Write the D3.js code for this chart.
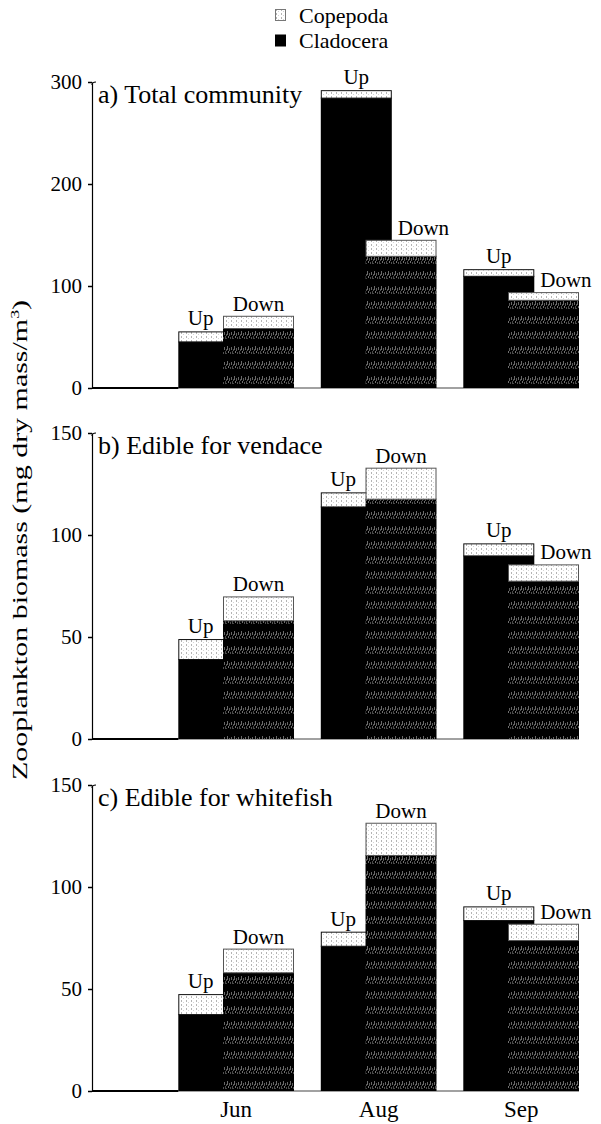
<!DOCTYPE html>
<html>
<head>
<meta charset="utf-8">
<script src="https://cdn.jsdelivr.net/npm/d3@7"></script>
<style>
  body { margin: 0; background: #fff; }
  svg text { font-family: "Liberation Serif", serif !important; }
</style>
</head>
<body>
<div id="chart"></div>
<script>
const months = ["Jun", "Aug", "Sep"];
const sites = ["Up", "Down"];
const panelTitles = ["a) Total community", "b) Edible for vendace", "c) Edible for whitefish"];
const yMaxes = [300, 150, 150];
const yTicks = [[0, 100, 200, 300], [0, 50, 100, 150], [0, 50, 100, 150]];
const seriesNames = ["Copepoda", "Cladocera"];

// one row per panel, one value per month
const cladoceraUp   = [[45.7, 284.7, 110], [39.2, 114, 90], [37.7, 71.2, 83.8]];
const copepodaUp    = [[9.8, 7.3, 6.5], [9.8, 6.9, 5.9], [9.8, 6.9, 6.7]];
const cladoceraDown = [[58.8, 129.6, 86.5], [58.2, 117.8, 77.6], [58.2, 115.7, 74]];
const copepodaDown  = [[12, 15.7, 7.5], [11.7, 15.2, 8], [11.6, 15.8, 8]];

const serif = "Liberation Serif";
const width = 601, height = 1124;
const axisX = 92;
const panelRanges = [[388, 82], [739, 433], [1091, 785]];

const svg = d3.select("#chart").append("svg")
  .attr("width", width)
  .attr("height", height);

// fill patterns
const defs = svg.append("defs");
const cope = defs.append("pattern")
  .attr("id", "cope").attr("patternUnits", "userSpaceOnUse")
  .attr("width", 5).attr("height", 4);
cope.append("rect").attr("width", 5).attr("height", 4).attr("fill", "#fff");
cope.append("rect").attr("x", 1).attr("y", 0).attr("width", 1).attr("height", 2).attr("fill", "#b4b4b4");
cope.append("rect").attr("x", 3).attr("y", 2).attr("width", 1).attr("height", 1).attr("fill", "#d4d4d4");

// black with bands of grey speckle
const dark = defs.append("pattern")
  .attr("id", "dark").attr("patternUnits", "userSpaceOnUse")
  .attr("width", 7).attr("height", 15);
dark.append("rect").attr("width", 7).attr("height", 15).attr("fill", "#000");
[[0, 2, 3, "#666"], [2, 4, 2, "#555"], [3, 1, 4, "#6a6a6a"], [5, 3, 3, "#5c5c5c"],
 [1, 6, 3, "#4c4c4c"], [4, 6, 2, "#707070"], [6, 7, 2, "#505050"], [2, 8, 1, "#444"]]
  .forEach(([px, py, ph, c]) => {
    dark.append("rect").attr("x", px).attr("y", py).attr("width", 1).attr("height", ph).attr("fill", c);
  });

const x = d3.scaleBand()
  .domain(months)
  .range([178.3, 579])
  .paddingInner(0.188)
  .paddingOuter(0);
const barW = 71;
const sub = d3.scalePoint()
  .domain(sites)
  .range([0, x.bandwidth() - barW]);

panelTitles.forEach((title, p) => {
  const y = d3.scaleLinear().domain([0, yMaxes[p]]).range(panelRanges[p]);
  const g = svg.append("g");

  // baseline
  g.append("line")
    .attr("x1", axisX).attr("x2", x.range()[1])
    .attr("y1", y(0)).attr("y2", y(0))
    .attr("stroke", "#444").attr("stroke-width", 1.2);
  g.append("line")
    .attr("x1", axisX).attr("x2", x(months[0]))
    .attr("y1", y(0)).attr("y2", y(0))
    .attr("stroke", "#000").attr("stroke-width", 1.8);

  const rows = months.map((m, i) => ({
    month: m,
    Up: { clad: cladoceraUp[p][i], cope: copepodaUp[p][i] },
    Down: { clad: cladoceraDown[p][i], cope: copepodaDown[p][i] }
  }));

  rows.forEach(r => {
    sites.forEach(s => {
      const v = r[s];
      const x0 = x(r.month) + sub(s);
      g.append("rect")
        .attr("x", x0).attr("width", barW)
        .attr("y", y(v.clad)).attr("height", y(0) - y(v.clad))
        .attr("fill", s === "Up" ? "#000" : "url(#dark)");
      g.append("rect")
        .attr("x", x0 + 0.5).attr("width", barW - 1)
        .attr("y", y(v.clad + v.cope) + 0.5).attr("height", y(v.clad) - y(v.clad + v.cope))
        .attr("fill", "url(#cope)")
        .attr("stroke", s === "Up" ? "#111" : "#555").attr("stroke-width", 1);
    });

    const upTot = r.Up.clad + r.Up.cope;
    const downTot = r.Down.clad + r.Down.cope;
    const upX = x(r.month) + sub("Up");
    const downX = x(r.month) + sub("Down");
    g.append("text")
      .attr("x", upTot > downTot ? upX + barW / 2 : (upX + downX) / 2)
      .attr("y", y(upTot) - 6)
      .attr("text-anchor", "middle")
      .attr("font-size", 21)
      .text("Up");
    g.append("text")
      .attr("x", upTot > downTot ? upX + barW + 6 : downX + barW / 2)
      .attr("y", y(downTot) - 5)
      .attr("text-anchor", upTot > downTot ? "start" : "middle")
      .attr("font-size", 21)
      .text("Down");
  });

  // y axis
  const axis = g.append("g")
    .attr("transform", `translate(${axisX},0)`)
    .call(d3.axisLeft(y).tickValues(yTicks[p]).tickSize(4).tickSizeOuter(0).tickPadding(6));
  axis.select(".domain").attr("stroke", "#000").attr("stroke-width", 1.2);
  axis.selectAll(".tick line").attr("stroke", "#000").attr("stroke-width", 1.5);
  axis.selectAll(".tick text").attr("font-size", 21);
  g.append("path")
    .attr("d", `M${axisX},${y(yMaxes[p]) + 3}Q${axisX},${y(yMaxes[p])} ${axisX + 4},${y(yMaxes[p])}`)
    .attr("fill", "none").attr("stroke", "#000").attr("stroke-width", 1.2);

  g.append("text")
    .attr("x", axisX + 6)
    .attr("y", y(yMaxes[p]) + 21)
    .attr("font-size", 26)
    .text(title);
});

// month labels
svg.append("g").selectAll("text")
  .data(months)
  .enter().append("text")
  .attr("x", d => x(d) + x.bandwidth() / 2)
  .attr("y", 1117)
  .attr("text-anchor", "middle")
  .attr("font-size", 23)
  .text(d => d);

// y label
const yl = svg.append("text")
  .attr("transform", "translate(27,540) rotate(-90)")
  .attr("text-anchor", "middle")
  .attr("font-size", 22)
  .attr("textLength", 480)
  .attr("lengthAdjust", "spacingAndGlyphs");
yl.append("tspan").text("Zooplankton biomass (mg dry mass/m");
yl.append("tspan").attr("dy", -8).attr("font-size", 13).text("3");
yl.append("tspan").attr("dy", 8).text(")");

// legend
const legend = svg.append("g").selectAll("g")
  .data(seriesNames)
  .enter().append("g")
  .attr("transform", (d, i) => `translate(275,${9 + i * 25.5})`);
legend.append("rect")
  .attr("x", 0.5).attr("y", 0.5)
  .attr("width", 10).attr("height", 11)
  .attr("fill", d => d === "Copepoda" ? "url(#cope)" : "#000")
  .attr("stroke", d => d === "Copepoda" ? "#777" : "#000");
legend.append("text")
  .attr("x", 24).attr("y", 13.5)
  .attr("font-size", 22)
  .text(d => d);

svg.selectAll("text")
  .attr("font-family", serif)
  .style("font-family", serif);
</script>
</body>
</html>
